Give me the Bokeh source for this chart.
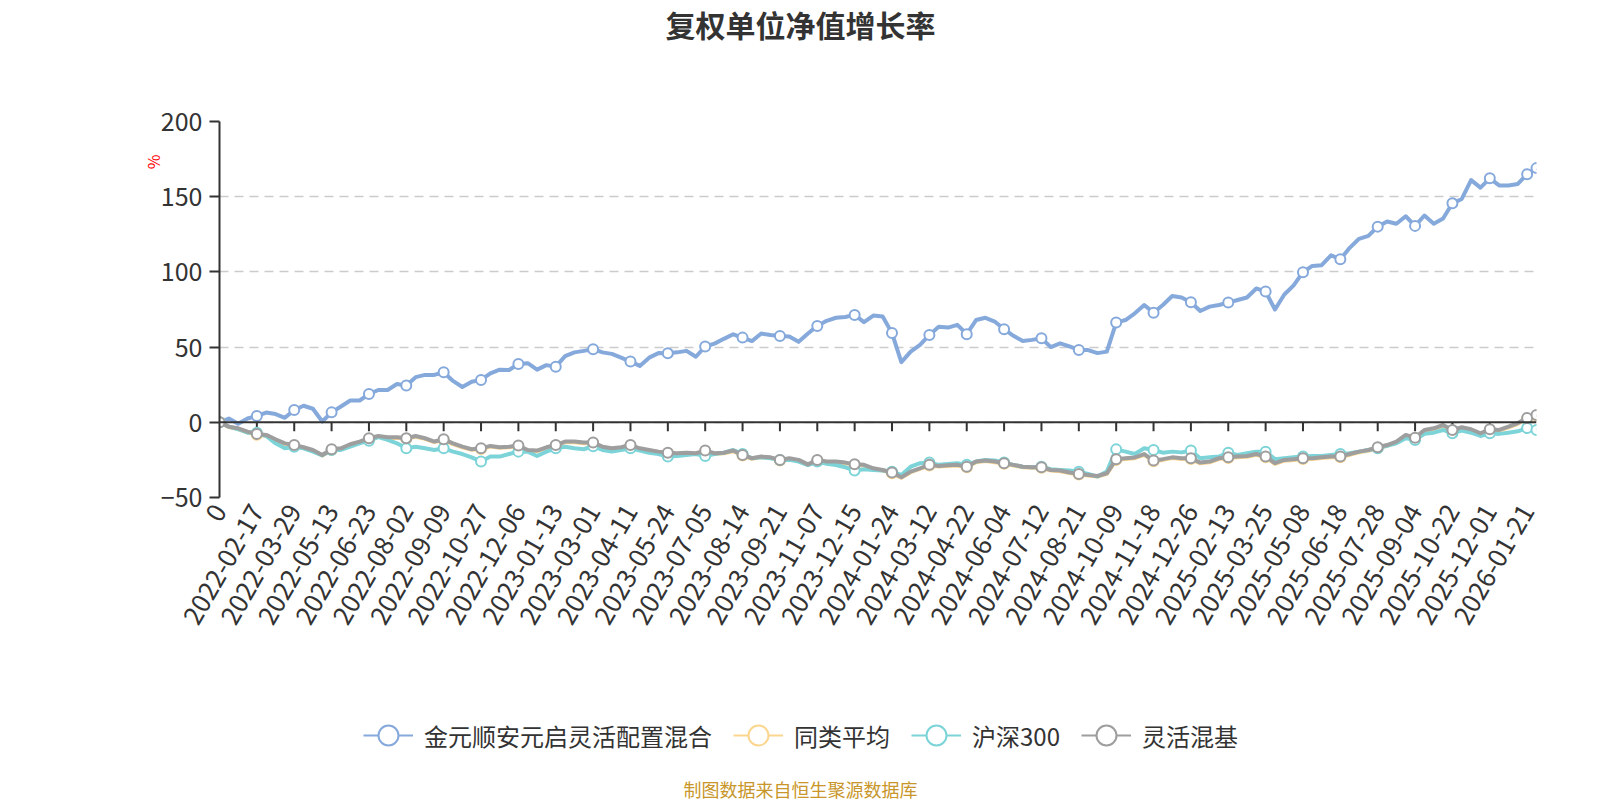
import math
from bokeh.plotting import figure
from bokeh.layouts import column
from bokeh.models import (Range1d, FixedTicker, Legend, LegendItem, Label, Span,
                          ColumnDataSource, Title)
from bokeh.embed import file_html
from bokeh.resources import INLINE

FONT = "Noto Sans CJK SC"

dates = ["0", "2022-02-17", "2022-03-29", "2022-05-13", "2022-06-23", "2022-08-02",
         "2022-09-09", "2022-10-27", "2022-12-06", "2023-01-13", "2023-03-01",
         "2023-04-11", "2023-05-24", "2023-07-05", "2023-08-14", "2023-09-21",
         "2023-11-07", "2023-12-15", "2024-01-24", "2024-03-12", "2024-04-22",
         "2024-06-04", "2024-07-12", "2024-08-21", "2024-10-09", "2024-11-18",
         "2024-12-26", "2025-02-13", "2025-03-25", "2025-05-08", "2025-06-18",
         "2025-07-28", "2025-09-04", "2025-10-22", "2025-12-01", "2026-01-21"]

series_names = ["金元顺安元启灵活配置混合", "同类平均", "沪深300", "灵活混基"]

fund = [0, 2.5, -1, 2.5, 4.2, 6.5, 5.5, 3, 8.2, 11,
        9, 0.5, 6.6, 10.5, 14.5, 14.5, 18.8, 21.5, 21.5, 25.5,
        24.4, 30, 31.5, 31.5, 33.3, 27.5, 23.5, 27, 28.2, 32.5,
        35, 34.8, 38.8, 39.3, 35, 38, 37, 44, 46.5, 47.5,
        48.6, 46.5, 45.5, 43, 40.4, 37.5, 43, 46, 45.9, 46.5,
        47.5, 43.6, 50.4, 52.3, 55.5, 58.5, 56.3, 54, 59, 58,
        57.4, 57, 53.5, 59, 64.1, 67.5, 69.5, 70, 71.4, 66.6,
        71, 70.3, 59.3, 40, 47, 51.5, 58.1, 63.5, 63, 64.8,
        58.6, 68, 69.5, 67, 61.9, 57.5, 54, 54.8, 55.9, 50,
        52.5, 50.5, 48.1, 48, 46, 47, 66.3, 68, 72.5, 78,
        72.9, 78, 84, 83, 79.8, 74, 76.9, 78, 79.6, 81.3,
        83, 89, 86.9, 75, 85, 91, 99.8, 104, 104.5, 111,
        108.4, 116, 122, 124, 130.1, 133.5, 132, 137, 130.6, 137.5,
        132, 135.5, 145.6, 148.5, 161, 156, 162.2, 157.5, 157.5, 158.5,
        165, 169]

peer_avg = [0, -3.2, -4.5, -6.8, -8.3, -9, -11.9, -14.5, -15.6, -17.1,
            -18.9, -22.1, -18.4, -17.8, -15.1, -13.3, -11.1, -9.6, -10.4, -10.3,
            -11, -9.6, -11, -13.2, -11.8, -14.5, -16.6, -18.3, -17.8, -16.1,
            -17, -16.6, -16, -18.9, -19.2, -17, -15.5, -13.2, -13.2, -13.9,
            -13.9, -16.6, -17.7, -17, -15.5, -17.7, -18.8, -19.9, -20.6, -21,
            -20.6, -21, -19.2, -21, -20.6, -19.2, -22.1, -24.3, -23.2, -23.7,
            -25.4, -24.3, -25.4, -28.4, -25.4, -26.5, -26.5, -27.2, -28.3, -28.7,
            -31, -32.1, -33.8, -36.9, -33.2, -31, -28.7, -29.4, -29, -28.7,
            -29.9, -26.5, -25.8, -26.5, -27.6, -28.7, -29.9, -30.3, -30.3, -32.1,
            -32.5, -33.8, -34.7, -35.4, -36.1, -34.3, -25, -24.4, -23.9, -21.6,
            -25.9, -25, -23.8, -24.4, -24.4, -27.3, -26.6, -24.4, -23.8, -23.3,
            -22.9, -21.6, -23.3, -27.7, -25.5, -25, -24.4, -24.4, -23.8, -23.3,
            -23.3, -21.6, -20, -18.9, -17.1, -15.6, -13.3, -8.9, -10.7, -5.6,
            -4.5, -2.3, -5.6, -3.8, -5.1, -7.8, -5.1, -5.6, -3.4, -1,
            2.4, 4.4]

hs300 = [0, -2.9, -4.6, -6.9, -7, -9.1, -14, -17.3, -16.2, -17.3,
         -19.5, -22, -18.4, -18.4, -16.2, -14, -12.2, -9.9, -11.7, -14,
         -17.3, -16.2, -17.3, -18.4, -17.3, -19.5, -21.1, -23.3, -26.1, -22.8,
         -22.8, -21.1, -19.5, -19.5, -22.4, -19.5, -17.3, -16.2, -17.3, -17.9,
         -15.9, -18.4, -19.5, -18.4, -17.3, -18.8, -20.2, -21.1, -22.8, -22.4,
         -21.7, -21.1, -22.4, -21.1, -20.2, -18.4, -21.1, -23.9, -23.3, -23.9,
         -25, -25, -26.1, -28.5, -26.1, -27.6, -28.4, -29.9, -32, -31.2,
         -31.7, -32.1, -32.8, -35, -29.5, -27.2, -26.8, -28.3, -27.8, -27.2,
         -28.3, -26.1, -25, -25.4, -26.8, -28.3, -29.5, -29.9, -29.5, -31.2,
         -31.7, -32.1, -32.8, -34.3, -36.1, -32.8, -18, -19.5, -21.1, -17.3,
         -18.4, -20.2, -19.5, -20, -18.8, -23.9, -23.3, -22.8, -20.2, -21.7,
         -20.6, -19.5, -19.5, -24.5, -23.9, -23.3, -22.8, -22.4, -22.4, -21.7,
         -21.1, -20.6, -19.5, -18.4, -17.3, -15.7, -14, -10.6, -11.7, -7.7,
         -6.9, -5.1, -7.3, -5.5, -6.9, -9.1, -7.3, -7.7, -6.9, -6,
         -3.8, -5.2]

flex_mix = [0, -2.9, -4, -6.2, -7.7, -8.4, -11.3, -14, -15.1, -16.6,
            -18.4, -21.7, -17.9, -17.3, -14.6, -12.8, -10.6, -9.1, -9.9, -9.9,
            -10.6, -9.1, -10.6, -12.8, -11.3, -14, -16.2, -17.9, -17.3, -15.7,
            -16.6, -16.2, -15.5, -18.4, -18.8, -16.6, -15.1, -12.8, -12.8, -13.5,
            -13.5, -16.2, -17.3, -16.6, -15.1, -17.3, -18.4, -19.5, -20.2, -20.6,
            -20.2, -20.6, -18.8, -20.6, -20.2, -18.8, -21.7, -23.9, -22.8, -23.3,
            -25, -23.9, -25, -28, -25, -26.1, -26.1, -26.8, -27.9, -28.3,
            -30.6, -31.7, -33.4, -36.5, -32.8, -30.6, -28.3, -29, -28.6, -28.3,
            -29.5, -26.1, -25.4, -26.1, -27.2, -28.3, -29.5, -29.9, -29.9, -31.7,
            -32.1, -33.4, -34.3, -35, -35.7, -33.9, -24.5, -23.9, -23.4, -21.1,
            -25.4, -24.5, -23.3, -23.9, -23.9, -26.8, -26.1, -23.9, -23.3, -22.8,
            -22.4, -21.1, -22.8, -27.2, -25, -24.5, -23.9, -23.9, -23.3, -22.8,
            -22.8, -21.1, -19.5, -18.4, -16.6, -15.1, -12.8, -8.4, -10.2, -5.1,
            -4, -1.8, -5.1, -3.3, -4.6, -7.3, -4.6, -5.1, -2.9, -0.5,
            2.9, 4.9]

y_ticks = [-50, 0, 50, 100, 150, 200]

colors = ["#86a9dc", "#fcd68e", "#7dd4d8", "#9e9e9e"]
STEPS = 4  # data steps between consecutive date labels

n = len(fund)
for s in (peer_avg, hs300, flex_mix):
    assert len(s) == n
xs = list(range(n))
tick_idx = [k * STEPS for k in range(len(dates))]
marker_idx = tick_idx + [n - 1]

W = 1600
TOP_H, MAIN_H = 60, 600
BOT_H = 800 - TOP_H - MAIN_H
LEFT, RIGHT = 219, 64
FRAME_TOP_ABS, FRAME_H = 121, 376
M_TOP = FRAME_TOP_ABS - TOP_H
M_BOTTOM = MAIN_H - M_TOP - FRAME_H
y_lo, y_hi = -50, 200
px_per_unit = FRAME_H / (y_hi - y_lo)


def blank(h):
    f = figure(width=W, height=h, x_range=Range1d(0, 1), y_range=Range1d(0, 1),
               x_axis_location=None, y_axis_location=None, output_backend="svg",
               toolbar_location=None, min_border_left=LEFT, min_border_right=RIGHT,
               min_border_top=0, min_border_bottom=0)
    f.grid.visible = False
    f.outline_line_color = None
    f.background_fill_color = "white"
    f.border_fill_color = "white"
    return f


def sx(abs_x):
    return abs_x - LEFT


# ---- title strip ----
top = blank(TOP_H)
top.add_layout(Label(x=sx(800), y=TOP_H - 23, x_units="screen", y_units="screen",
                     text="复权单位净值增长率", text_font=FONT, text_font_size="30px",
                     text_font_style="bold", text_color="#333333",
                     text_align="center", text_baseline="middle"))

# ---- main chart ----
p = figure(width=W, height=MAIN_H, x_range=Range1d(0, n - 1), y_range=Range1d(y_lo, y_hi),
           output_backend="svg", toolbar_location=None,
           min_border_left=LEFT, min_border_right=RIGHT,
           min_border_top=M_TOP, min_border_bottom=M_BOTTOM)
p.outline_line_color = None
p.background_fill_color = "white"
p.border_fill_color = "white"

p.xgrid.visible = False
p.ygrid.grid_line_color = "#cccccc"
p.ygrid.grid_line_dash = "9 6"
p.ygrid.grid_line_width = 1.5

p.yaxis.ticker = FixedTicker(ticks=y_ticks)
p.yaxis.axis_line_color = "#333333"
p.yaxis.axis_line_width = 2
p.yaxis.major_tick_line_color = "#333333"
p.yaxis.major_tick_line_width = 2
p.yaxis.major_tick_out = 10
p.yaxis.major_tick_in = 0
p.yaxis.minor_tick_line_color = None
p.yaxis.major_label_standoff = 7
p.yaxis.major_label_text_font = FONT
p.yaxis.major_label_text_font_size = "25px"
p.yaxis.major_label_text_color = "#333333"

p.xaxis.ticker = FixedTicker(ticks=tick_idx)
p.xaxis.major_label_overrides = {t: d for t, d in zip(tick_idx, dates)}
p.xaxis.axis_line_color = None
p.xaxis.major_tick_line_color = None
p.xaxis.minor_tick_line_color = None
p.xaxis.major_label_orientation = math.pi / 3
p.xaxis.major_label_standoff = 3
p.xaxis.major_label_text_font = FONT
p.xaxis.major_label_text_font_size = "26px"
p.xaxis.major_label_text_color = "#333333"

# unit mark next to the y axis
unit = Title(text="%", align="right", offset=33, text_color="red",
             text_font=FONT, text_font_size="16px", text_font_style="normal")
try:
    unit.standoff = -14
except Exception:
    unit.standoff = 0
p.add_layout(unit, "left")

# zero axis line with downward ticks
p.add_layout(Span(location=0, dimension="width", line_color="#333333", line_width=2))
tick_len = 9 / px_per_unit
p.segment(x0=tick_idx[1:], y0=[0] * (len(tick_idx) - 1), x1=tick_idx[1:],
          y1=[-tick_len] * (len(tick_idx) - 1), line_color="#333333", line_width=2)

all_series = [fund, peer_avg, hs300, flex_mix]
for data, col in zip(all_series, colors):
    p.line(xs, data, line_color=col, line_width=4, line_join="round")
    p.scatter([xs[i] for i in marker_idx], [data[i] for i in marker_idx], marker="circle",
              size=10, fill_color="white", line_color=col, line_width=2)

# ---- legend + source strip ----
bot = blank(BOT_H)
items = []
for name, col in zip(series_names, colors):
    # one point far outside the visible range: only the legend shows it
    src = ColumnDataSource(dict(x=[-10], y=[-10]))
    lr = bot.line("x", "y", source=src, line_color=col, line_width=2)
    sr = bot.scatter("x", "y", source=src, marker="circle", fill_color="white",
                     line_color=col, line_width=2)
    items.append(LegendItem(label=name, renderers=[lr, sr]))

LEG_H = 50
legend = Legend(items=items, orientation="horizontal",
                location=(sx(363), 800 - 735 - LEG_H // 2),
                glyph_width=50, glyph_height=LEG_H, label_standoff=11, spacing=21,
                padding=0, margin=0, border_line_color=None, background_fill_alpha=0,
                label_text_font=FONT, label_text_font_size="24px",
                label_text_color="#333333", label_text_baseline="middle")
bot.add_layout(legend)

bot.add_layout(Label(x=sx(800), y=800 - 788, x_units="screen", y_units="screen",
                     text="制图数据来自恒生聚源数据库", text_font=FONT, text_font_size="18px",
                     text_color="#c8962a", text_align="center", text_baseline="middle"))

layout = column(top, p, bot, spacing=0)
open("out.html", "w").write(file_html(layout, INLINE))
